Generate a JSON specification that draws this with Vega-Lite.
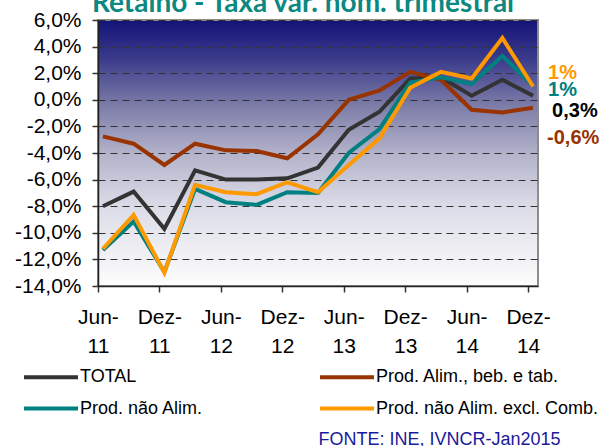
{
  "$schema": "https://vega.github.io/schema/vega-lite/v6.json",
  "width": 440,
  "height": 266,
  "autosize": {"type": "none"},
  "padding": {"left": 98, "top": 20, "right": 70, "bottom": 160},
  "background": "white",
  "view": {
    "fill": {"gradient": "linear", "x1": 0, "y1": 0, "x2": 0, "y2": 1,
      "stops": [
        {"offset": 0, "color": "#131378"},
        {"offset": 0.15, "color": "#3c3c8c"},
        {"offset": 0.32, "color": "#7c7ca8"},
        {"offset": 0.5, "color": "#b2b2ca"},
        {"offset": 0.7, "color": "#dcdce8"},
        {"offset": 1, "color": "#fdfdfd"}
      ]},
    "stroke": "#8c8c8c",
    "strokeWidth": 2
  },
  "title": {
    "text": "Retalho - Taxa var. nom. trimestral",
    "font": "Lato",
    "fontSize": 28,
    "fontWeight": "bold",
    "color": "#0b8880",
    "anchor": "middle",
    "frame": "group",
    "baseline": "alphabetic",
    "offset": 0,
    "dy": 31,
    "dx": -15
  },
  "data": {"values": [
    {"q": "Jun-11", "s": "TOTAL", "v": -8.0},
    {"q": "Set-11", "s": "TOTAL", "v": -6.9},
    {"q": "Dez-11", "s": "TOTAL", "v": -9.7},
    {"q": "Mar-12", "s": "TOTAL", "v": -5.3},
    {"q": "Jun-12", "s": "TOTAL", "v": -6.0},
    {"q": "Set-12", "s": "TOTAL", "v": -6.0},
    {"q": "Dez-12", "s": "TOTAL", "v": -5.9},
    {"q": "Mar-13", "s": "TOTAL", "v": -5.1},
    {"q": "Jun-13", "s": "TOTAL", "v": -2.25},
    {"q": "Set-13", "s": "TOTAL", "v": -0.9},
    {"q": "Dez-13", "s": "TOTAL", "v": 1.6},
    {"q": "Mar-14", "s": "TOTAL", "v": 1.7},
    {"q": "Jun-14", "s": "TOTAL", "v": 0.3},
    {"q": "Set-14", "s": "TOTAL", "v": 1.5},
    {"q": "Dez-14", "s": "TOTAL", "v": 0.3},
    {"q": "Jun-11", "s": "Prod. Alim., beb. e tab.", "v": -2.75},
    {"q": "Set-11", "s": "Prod. Alim., beb. e tab.", "v": -3.3},
    {"q": "Dez-11", "s": "Prod. Alim., beb. e tab.", "v": -4.9},
    {"q": "Mar-12", "s": "Prod. Alim., beb. e tab.", "v": -3.3},
    {"q": "Jun-12", "s": "Prod. Alim., beb. e tab.", "v": -3.8},
    {"q": "Set-12", "s": "Prod. Alim., beb. e tab.", "v": -3.85},
    {"q": "Dez-12", "s": "Prod. Alim., beb. e tab.", "v": -4.4},
    {"q": "Mar-13", "s": "Prod. Alim., beb. e tab.", "v": -2.6},
    {"q": "Jun-13", "s": "Prod. Alim., beb. e tab.", "v": 0.0},
    {"q": "Set-13", "s": "Prod. Alim., beb. e tab.", "v": 0.7},
    {"q": "Dez-13", "s": "Prod. Alim., beb. e tab.", "v": 2.1},
    {"q": "Mar-14", "s": "Prod. Alim., beb. e tab.", "v": 1.5},
    {"q": "Jun-14", "s": "Prod. Alim., beb. e tab.", "v": -0.75},
    {"q": "Set-14", "s": "Prod. Alim., beb. e tab.", "v": -0.95},
    {"q": "Dez-14", "s": "Prod. Alim., beb. e tab.", "v": -0.6},
    {"q": "Jun-11", "s": "Prod. não Alim.", "v": -11.3},
    {"q": "Set-11", "s": "Prod. não Alim.", "v": -9.15},
    {"q": "Dez-11", "s": "Prod. não Alim.", "v": -12.95},
    {"q": "Mar-12", "s": "Prod. não Alim.", "v": -6.7},
    {"q": "Jun-12", "s": "Prod. não Alim.", "v": -7.7},
    {"q": "Set-12", "s": "Prod. não Alim.", "v": -7.9},
    {"q": "Dez-12", "s": "Prod. não Alim.", "v": -6.95},
    {"q": "Mar-13", "s": "Prod. não Alim.", "v": -7.0},
    {"q": "Jun-13", "s": "Prod. não Alim.", "v": -4.0},
    {"q": "Set-13", "s": "Prod. não Alim.", "v": -2.2},
    {"q": "Dez-13", "s": "Prod. não Alim.", "v": 1.3},
    {"q": "Mar-14", "s": "Prod. não Alim.", "v": 1.7},
    {"q": "Jun-14", "s": "Prod. não Alim.", "v": 1.2},
    {"q": "Set-14", "s": "Prod. não Alim.", "v": 3.3},
    {"q": "Dez-14", "s": "Prod. não Alim.", "v": 1.05},
    {"q": "Jun-11", "s": "Prod. não Alim. excl. Comb.", "v": -11.2},
    {"q": "Set-11", "s": "Prod. não Alim. excl. Comb.", "v": -8.65},
    {"q": "Dez-11", "s": "Prod. não Alim. excl. Comb.", "v": -13.0},
    {"q": "Mar-12", "s": "Prod. não Alim. excl. Comb.", "v": -6.4},
    {"q": "Jun-12", "s": "Prod. não Alim. excl. Comb.", "v": -6.95},
    {"q": "Set-12", "s": "Prod. não Alim. excl. Comb.", "v": -7.1},
    {"q": "Dez-12", "s": "Prod. não Alim. excl. Comb.", "v": -6.2},
    {"q": "Mar-13", "s": "Prod. não Alim. excl. Comb.", "v": -6.95},
    {"q": "Jun-13", "s": "Prod. não Alim. excl. Comb.", "v": -4.9},
    {"q": "Set-13", "s": "Prod. não Alim. excl. Comb.", "v": -2.9},
    {"q": "Dez-13", "s": "Prod. não Alim. excl. Comb.", "v": 0.9},
    {"q": "Mar-14", "s": "Prod. não Alim. excl. Comb.", "v": 2.1},
    {"q": "Jun-14", "s": "Prod. não Alim. excl. Comb.", "v": 1.6},
    {"q": "Set-14", "s": "Prod. não Alim. excl. Comb.", "v": 4.65},
    {"q": "Dez-14", "s": "Prod. não Alim. excl. Comb.", "v": 1.0}
  ]},
  "encoding": {
    "x": {
      "field": "q", "type": "ordinal",
      "sort": ["Jun-11","Set-11","Dez-11","Mar-12","Jun-12","Set-12","Dez-12","Mar-13","Jun-13","Set-13","Dez-13","Mar-14","Jun-14","Set-14","Dez-14"],
      "scale": {"type": "point", "padding": 0.16},
      "axis": {
        "values": ["Jun-11","Dez-11","Jun-12","Dez-12","Jun-13","Dez-13","Jun-14","Dez-14"],
        "labelExpr": "[slice(datum.label, 0, 4), slice(datum.label, 4)]",
        "labelAngle": 0,
        "labelFont": "Liberation Sans",
        "labelFontSize": 21,
        "labelColor": "#000000",
        "labelLineHeight": 29,
        "labelPadding": 14,
        "tickOffset": -5,
        "tickSize": 6,
        "tickColor": "#333333",
        "tickWidth": 1.5,
        "domainColor": "#222222",
        "domainWidth": 1.5,
        "grid": false,
        "title": "FONTE: INE, IVNCR-Jan2015",
        "titleFont": "Liberation Sans",
        "titleFontSize": 18,
        "titleFontWeight": "normal",
        "titleColor": "#1a1a9a",
        "titleAlign": "left",
        "titleAnchor": "start",
        "titleBaseline": "alphabetic",
        "titleX": 220,
        "titleY": 158
      }
    },
    "y": {
      "field": "v", "type": "quantitative",
      "scale": {"domain": [-14, 6], "nice": false, "zero": false},
      "axis": {
        "values": [-14, -12, -10, -8, -6, -4, -2, 0, 2, 4, 6],
        "labelExpr": "(datum.value < 0 ? '-' : '') + replace(format(abs(datum.value), '.1f'), '.', ',') + '%'",
        "labelFont": "Liberation Sans",
        "labelFontSize": 21,
        "labelColor": "#000000",
        "labelPadding": 11,
        "tickSize": 6,
        "tickColor": "#333333",
        "tickWidth": 1.5,
        "domainColor": "#222222",
        "domainWidth": 1.5,
        "grid": true,
        "gridColor": "#333333",
        "gridWidth": 1,
        "gridDash": [7, 5],
        "title": null
      }
    },
    "color": {
      "field": "s", "type": "nominal",
      "scale": {
        "domain": ["TOTAL", "Prod. não Alim.", "Prod. Alim., beb. e tab.", "Prod. não Alim. excl. Comb."],
        "range": ["#333333", "#008080", "#993300", "#ff9900"]
      },
      "legend": {
        "orient": "none",
        "legendX": -62.5,
        "legendY": 341.5,
        "columns": 2,
        "gridAlign": "each",
        "columnPadding": 108,
        "rowPadding": 6.5,
        "title": null,
        "symbolType": "M-2,0H2",
        "symbolSize": 729,
        "symbolStrokeWidth": 4,
        "labelFont": "Liberation Sans",
        "labelFontSize": 18,
        "labelColor": "#000000",
        "labelOffset": 13.5,
        "labelLimit": 400
      }
    }
  },
  "layer": [
    {"mark": {"type": "line", "strokeWidth": 4, "strokeJoin": "miter"}},
    {
      "transform": [{"filter": "datum.q == 'Dez-14' && datum.s == 'Prod. não Alim. excl. Comb.'"}],
      "mark": {"type": "text", "text": "1%", "align": "left", "baseline": "middle", "dx": 15, "dy": -14, "font": "Liberation Sans", "fontSize": 20, "fontWeight": "bold"},
      "encoding": {"color": {"value": "#ff9900"}}
    },
    {
      "transform": [{"filter": "datum.q == 'Dez-14' && datum.s == 'Prod. não Alim.'"}],
      "mark": {"type": "text", "text": "1%", "align": "left", "baseline": "middle", "dx": 15, "dy": 4, "font": "Liberation Sans", "fontSize": 20, "fontWeight": "bold"},
      "encoding": {"color": {"value": "#008080"}}
    },
    {
      "transform": [{"filter": "datum.q == 'Dez-14' && datum.s == 'TOTAL'"}],
      "mark": {"type": "text", "text": "0,3%", "align": "left", "baseline": "middle", "dx": 19, "dy": 15, "font": "Liberation Sans", "fontSize": 20, "fontWeight": "bold"},
      "encoding": {"color": {"value": "#000000"}}
    },
    {
      "transform": [{"filter": "datum.q == 'Dez-14' && datum.s == 'Prod. Alim., beb. e tab.'"}],
      "mark": {"type": "text", "text": "-0,6%", "align": "left", "baseline": "middle", "dx": 14, "dy": 30, "font": "Liberation Sans", "fontSize": 20, "fontWeight": "bold"},
      "encoding": {"color": {"value": "#993300"}}
    }
  ]
}
